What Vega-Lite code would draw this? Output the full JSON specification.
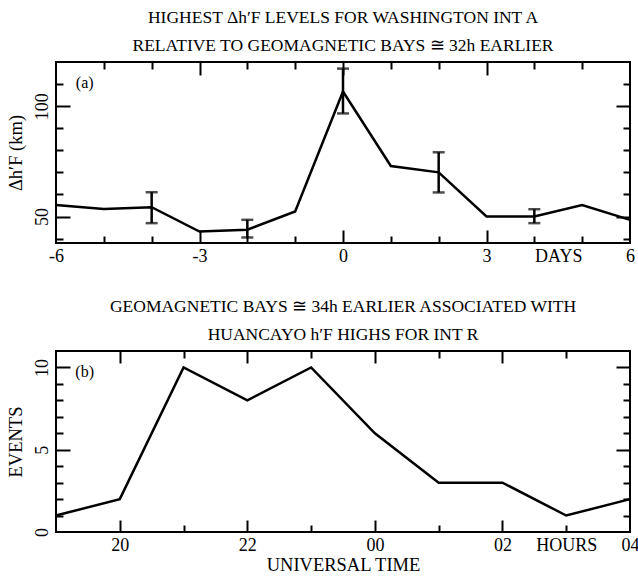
{
  "$schema": "https://vega.github.io/schema/vega-lite/v6.json",
  "background": "white",
  "padding": {"left": 5, "top": 7, "right": 8, "bottom": 0},
  "spacing": 30,
  "config": {
    "font": "Liberation Serif",
    "view": {"stroke": "black", "strokeWidth": 2, "fill": "transparent"},
    "style": {"cell": {"fill": "transparent"}},
    "axis": {"domain": false, "grid": false, "zindex": 2, "tickColor": "black", "tickWidth": 2, "gridColor": "black", "gridWidth": 2, "gridOpacity": 1, "labelFont": "Liberation Serif", "labelFontSize": 18, "labelColor": "black", "titleFont": "Liberation Serif", "titleFontWeight": "normal", "titleColor": "black", "titleFontSize": 18.5, "labelOverlap": false, "labelFlush": false, "labelBound": false},
    "title": {"font": "Liberation Serif", "fontSize": 17.5, "fontWeight": "normal", "color": "black", "lineHeight": 28, "anchor": "middle"}
  },
  "vconcat": [
    {
      "title": {"text": ["HIGHEST Δh′F LEVELS FOR WASHINGTON INT A", "RELATIVE TO GEOMAGNETIC BAYS ≅ 32h EARLIER"], "offset": 8},
      "width": 574,
      "height": 181,
      "data": {"values": [
        {"day": -6, "dh": 55.2},
        {"day": -5, "dh": 53.4},
        {"day": -4, "dh": 54.2, "lo": 47, "hi": 61},
        {"day": -3, "dh": 43.2},
        {"day": -2, "dh": 44, "lo": 40.5, "hi": 48.5},
        {"day": -1, "dh": 52.3},
        {"day": 0, "dh": 106.6, "lo": 96.7, "hi": 117},
        {"day": 1, "dh": 72.9},
        {"day": 2, "dh": 70, "lo": 60.9, "hi": 79.1},
        {"day": 3, "dh": 50},
        {"day": 4, "dh": 50, "lo": 47, "hi": 53.3},
        {"day": 5, "dh": 55.2},
        {"day": 6, "dh": 48.5}
      ]},
      "layer": [
        {
          "mark": {"type": "line", "color": "black", "strokeWidth": 2.5},
          "encoding": {
            "x": {"field": "day", "type": "quantitative", "scale": {"domain": [-6, 6], "nice": false, "zero": false},
              "axis": {"orient": "bottom", "title": null, "values": [-6, -3, 0, 3, 4.5, 6], "ticks": false, "tickSize": 0, "labelPadding": 4,
                "labelExpr": "datum.value == 4.5 ? 'DAYS' : '' + datum.value"}},
            "y": {"field": "dh", "type": "quantitative", "scale": {"domain": [38, 120], "nice": false, "zero": false},
              "axis": {"orient": "left", "title": "Δh′F (km)", "values": [50, 100], "ticks": false, "tickSize": 0, "labelPadding": 5,
                "labelExpr": "'' + datum.value",
                "labelAngle": -90, "labelAlign": "center", "labelBaseline": "bottom", "titlePadding": 8}}
          }
        },
        {
          "transform": [{"filter": "isValid(datum.lo)"}],
          "mark": {"type": "rule", "color": "black", "strokeWidth": 2.5},
          "encoding": {
            "x": {"field": "day", "type": "quantitative",
              "axis": {"orient": "top", "title": null, "labels": false, "ticks": false, "grid": true, "gridDash": [13, 2000], "values": [-3, 0, 3]}},
            "y": {"field": "lo", "type": "quantitative",
              "axis": {"orient": "right", "title": null, "labels": false, "ticks": false, "grid": true, "gridDash": [14, 2000], "values": [50, 100]}},
            "y2": {"field": "hi"}
          }
        },
        {
          "transform": [{"filter": "isValid(datum.lo)"}],
          "mark": {"type": "tick", "orient": "horizontal", "size": 12, "thickness": 2.5, "color": "black"},
          "encoding": {
            "x": {"field": "day", "type": "quantitative",
              "axis": {"orient": "bottom", "title": null, "labels": false, "ticks": false, "grid": true, "gridDash": [13, 2000], "values": [-3, 0, 3]}},
            "y": {"field": "lo", "type": "quantitative",
              "axis": {"orient": "left", "title": null, "labels": false, "ticks": false, "grid": true, "gridDash": [14, 2000], "values": [50, 100]}}
          }
        },
        {
          "transform": [{"filter": "isValid(datum.hi)"}],
          "mark": {"type": "tick", "orient": "horizontal", "size": 12, "thickness": 2.5, "color": "black"},
          "encoding": {
            "x": {"field": "day", "type": "quantitative",
              "axis": {"orient": "bottom", "title": null, "labels": false, "ticks": false, "grid": true, "gridDash": [7, 2000], "values": [-5, -4, -2, -1, 1, 2, 4, 5]}},
            "y": {"field": "hi", "type": "quantitative",
              "axis": {"orient": "left", "title": null, "labels": false, "ticks": false, "grid": true, "gridDash": [7, 2000], "values": [40, 60, 70, 80, 90, 110]}}
          }
        },
        {
          "data": {"values": [{"day": -5.4, "dh": 110.5, "lab": "(a)"}]},
          "mark": {"type": "text", "font": "Liberation Serif", "fontSize": 16, "color": "black"},
          "encoding": {
            "x": {"field": "day", "type": "quantitative",
              "axis": {"orient": "top", "title": null, "labels": false, "ticks": false, "grid": true, "gridDash": [7, 2000], "values": [-5, -4, -2, -1, 1, 2, 4, 5]}},
            "y": {"field": "dh", "type": "quantitative",
              "axis": {"orient": "right", "title": null, "labels": false, "ticks": false, "grid": true, "gridDash": [7, 2000], "values": [40, 60, 70, 80, 90, 110]}},
            "text": {"field": "lab"}
          }
        }
      ],
      "resolve": {"axis": {"x": "independent", "y": "independent"}}
    },
    {
      "title": {"text": ["GEOMAGNETIC BAYS ≅ 34h EARLIER ASSOCIATED WITH", "HUANCAYO h′F HIGHS FOR INT R"], "offset": 8},
      "width": 574,
      "height": 181,
      "data": {"values": [
        {"hour": 19, "events": 1},
        {"hour": 20, "events": 2},
        {"hour": 21, "events": 10},
        {"hour": 22, "events": 8},
        {"hour": 23, "events": 10},
        {"hour": 24, "events": 6},
        {"hour": 25, "events": 3},
        {"hour": 26, "events": 3},
        {"hour": 27, "events": 1},
        {"hour": 28, "events": 2}
      ]},
      "layer": [
        {
          "mark": {"type": "line", "color": "black", "strokeWidth": 2.5},
          "encoding": {
            "x": {"field": "hour", "type": "quantitative", "scale": {"domain": [19, 28], "nice": false, "zero": false},
              "axis": {"orient": "bottom", "title": "UNIVERSAL TIME", "titleFontSize": 18.5, "titlePadding": 1, "values": [20, 22, 24, 26, 27, 28], "ticks": false, "tickSize": 0, "labelPadding": 4,
                "labelExpr": "datum.value == 27 ? 'HOURS' : ((datum.value % 24) < 10 ? '0' : '') + (datum.value % 24)"}},
            "y": {"field": "events", "type": "quantitative", "scale": {"domain": [0, 11], "nice": false, "zero": false},
              "axis": {"orient": "left", "title": "EVENTS", "values": [0, 5, 10], "ticks": false, "tickSize": 0, "labelPadding": 5,
                "labelExpr": "'' + datum.value",
                "labelAngle": -90, "labelAlign": "center", "labelBaseline": "bottom", "titlePadding": 8}}
          }
        },
        {
          "mark": {"type": "line", "color": "black", "strokeWidth": 2.5, "opacity": 0},
          "encoding": {
            "x": {"field": "hour", "type": "quantitative",
              "axis": {"orient": "top", "title": null, "labels": false, "ticks": false, "grid": true, "gridDash": [12, 2000], "values": [20, 22, 24, 26]}},
            "y": {"field": "events", "type": "quantitative",
              "axis": {"orient": "right", "title": null, "labels": false, "ticks": false, "grid": true, "gridDash": [14, 2000], "values": [5, 10]}}
          }
        },
        {
          "mark": {"type": "line", "color": "black", "strokeWidth": 2.5, "opacity": 0},
          "encoding": {
            "x": {"field": "hour", "type": "quantitative",
              "axis": {"orient": "bottom", "title": null, "labels": false, "ticks": false, "grid": true, "gridDash": [12, 2000], "values": [20, 22, 24, 26]}},
            "y": {"field": "events", "type": "quantitative",
              "axis": {"orient": "left", "title": null, "labels": false, "ticks": false, "grid": true, "gridDash": [14, 2000], "values": [5, 10]}}
          }
        },
        {
          "mark": {"type": "line", "color": "black", "strokeWidth": 2.5, "opacity": 0},
          "encoding": {
            "x": {"field": "hour", "type": "quantitative",
              "axis": {"orient": "bottom", "title": null, "labels": false, "ticks": false, "grid": true, "gridDash": [7, 2000], "values": [21, 23, 25, 27]}},
            "y": {"field": "events", "type": "quantitative",
              "axis": {"orient": "left", "title": null, "labels": false, "ticks": false, "grid": true, "gridDash": [7, 2000], "values": [1, 2, 3, 4, 6, 7, 8, 9]}}
          }
        },
        {
          "data": {"values": [{"hour": 19.45, "events": 9.7, "lab": "(b)"}]},
          "mark": {"type": "text", "font": "Liberation Serif", "fontSize": 16, "color": "black"},
          "encoding": {
            "x": {"field": "hour", "type": "quantitative",
              "axis": {"orient": "top", "title": null, "labels": false, "ticks": false, "grid": true, "gridDash": [7, 2000], "values": [21, 23, 25, 27]}},
            "y": {"field": "events", "type": "quantitative",
              "axis": {"orient": "right", "title": null, "labels": false, "ticks": false, "grid": true, "gridDash": [7, 2000], "values": [1, 2, 3, 4, 6, 7, 8, 9]}},
            "text": {"field": "lab"}
          }
        }
      ],
      "resolve": {"axis": {"x": "independent", "y": "independent"}}
    }
  ]
}
